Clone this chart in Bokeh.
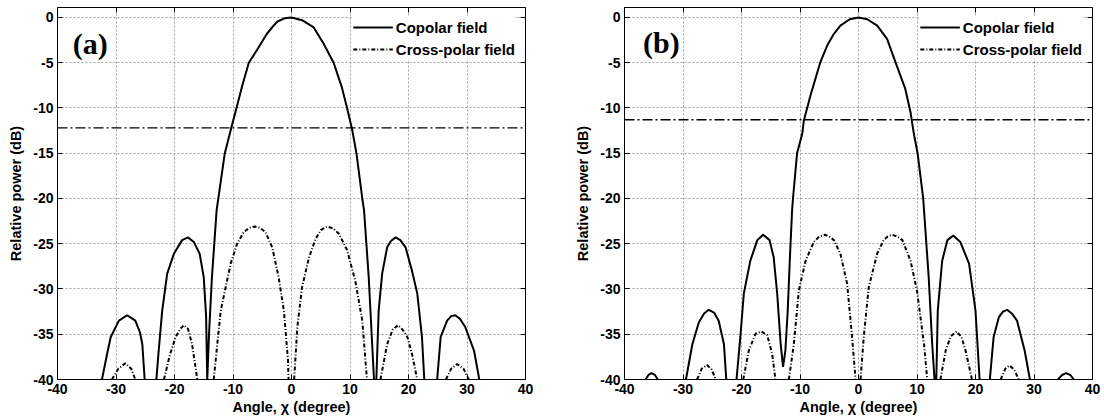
import math
from bokeh.plotting import figure
from bokeh.models import (Range1d, FixedTicker, LinearAxis, Span, Label,
                          CustomJSTickFormatter)
from bokeh.layouts import row
from bokeh.embed import file_html
from bokeh.resources import INLINE

nan = float("nan")

x_ticks = [-40, -30, -20, -10, 0, 10, 20, 30, 40]
y_ticks = [-40, -35, -30, -25, -20, -15, -10, -5, 0]

# ---------------- Panel (a) ----------------
a_co_x = [-32.4, -31.4, -30.9, -29.5, -28.1, -26.7, -25.9, -25.5, -25.1, nan,
          -23.1, -22.7, -22.1, -21.25, -20.1, -18.7, -17.7, -16.7, -15.7, -15.0, -14.6, -14.4,
          -14.1, -13.6, -12.8, -11.4, -10.3, -9.4, -8.4, -7.3, -5.9, -4.2, -3.2, -2.4, -1.2, 0.0,
          1.8, 3.8, 5.5, 7.2, 8.6, 9.5, 10.4, 11.1, 12.1, 12.4, 13.2, 14.1, nan,
          14.5, 14.9, 15.5, 16.35, 17.0, 17.8, 18.6, 19.5, 20.6, 21.5, 22.3, 22.7, nan,
          24.9, 25.5, 26.6, 27.3, 28.0, 28.8, 29.7, 31.2, 32.1]
a_co_y = [-40, -36.8, -35.3, -33.5, -32.9, -33.5, -34.8, -36.1, -40, nan,
          -40, -36.8, -32.4, -28.3, -26.1, -24.6, -24.3, -24.8, -26.1, -28.7, -33.0, -40,
          -35.0, -28.7, -21.3, -15.0, -12.2, -10.0, -7.5, -5.0, -3.6, -1.8, -1.0, -0.45, -0.1, 0.0,
          -0.3, -1.1, -2.9, -5.0, -7.7, -10.0, -12.5, -15.0, -20.0, -21.3, -28.7, -40, nan,
          -40, -32.4, -28.3, -25.4, -24.7, -24.3, -24.6, -25.4, -28.0, -30.5, -35.3, -40, nan,
          -40, -35.3, -33.5, -33.0, -32.9, -33.3, -34.2, -36.8, -40]

a_xp_x = [-30.7, -29.6, -28.4, -27.4, -26.7, nan,
          -21.8, -20.8, -19.8, -19.0, -18.4, -17.7, -17.0, -16.1, nan,
          -13.3, -12.1, -10.4, -9.3, -8.15, -7.2, -6.3, -5.4, -4.45, -3.3, -2.2, -1.3, -0.6, -0.5, nan,
          0.45, 1.0, 1.8, 3.0, 4.1, 5.0, 6.1, 7.1, 8.1, 9.5, 10.9, 12.1, 12.9, nan,
          15.2, 16.35, 17.3, 18.2, 19.0, 19.8, 20.6, 21.5, nan,
          26.4, 27.3, 28.3, 29.4, 30.3]
a_xp_y = [-40, -38.8, -38.2, -38.8, -40, nan,
          -40, -37.3, -35.3, -34.4, -34.0, -34.4, -36.1, -40, nan,
          -40, -32.4, -27.2, -25.0, -23.7, -23.25, -23.1, -23.25, -23.7, -25.4, -28.7, -32.4, -37.9, -40, nan,
          -40, -34.2, -29.8, -26.5, -24.5, -23.5, -23.1, -23.3, -23.9, -25.7, -29.1, -33.5, -40, nan,
          -40, -36.1, -34.5, -34.0, -34.5, -35.3, -37.2, -40, nan,
          -40, -38.8, -38.3, -38.8, -40]

a_level = -12.2

# ---------------- Panel (b) ----------------
b_co_x = [-36.4, -35.9, -35.4, -34.8, -34.3, nan,
          -29.5, -28.4, -27.3, -26.4, -25.6, -24.7, -23.9, -23.0, -22.6, nan,
          -20.85, -20.2, -19.6, -18.5, -17.3, -16.3, -15.2, -14.5, -13.9, -13.3, -12.9,
          -12.5, -12.1, -11.75, -11.35, -11.2, -10.5, -9.6, -9.35, -8.2, -6.5, -5.35, -4.3, -3.1,
          -1.5, 0.0, 1.5, 3.2, 4.9, 6.3, 8.0, 8.9, 9.45, 10.1, 11.06, 11.2, 12.0, 12.6, 13.0, nan,
          13.3, 13.55, 14.3, 15.2, 16.2, 17.4, 18.9, 20.0, 20.7, nan,
          22.45, 23.1, 24.0, 24.7, 25.4, 26.2, 27.1, 28.4, 29.3, nan,
          34.1, 34.8, 35.5, 36.2, 36.8]
b_co_y = [-40, -39.5, -39.3, -39.5, -40, nan,
          -40, -36.1, -33.7, -32.7, -32.3, -32.6, -33.5, -36.1, -40, nan,
          -40, -35.3, -30.5, -26.9, -24.6, -24.0, -24.6, -26.5, -30.5, -36.1, -38.6,
          -36.8, -32.4, -26.9, -21.3, -20.0, -15.0, -12.8, -11.4, -8.6, -4.9, -3.1, -1.9, -0.9,
          -0.2, 0.0, -0.2, -0.9, -2.4, -4.9, -7.9, -10.5, -12.8, -15.0, -20.0, -21.3, -28.7, -36.1, -40, nan,
          -40, -32.4, -26.9, -24.6, -24.1, -24.8, -27.2, -32.4, -40, nan,
          -40, -35.3, -33.1, -32.5, -32.3, -32.7, -33.5, -36.8, -40, nan,
          -40, -39.5, -39.3, -39.5, -40]

b_xp_x = [-27.6, -26.8, -25.9, -25.1, -24.4, nan,
          -19.7, -18.75, -17.6, -16.6, -15.6, -14.75, -14.2, nan,
          -11.9, -11.05, -10.2, -9.05, -7.65, -6.7, -5.8, -5.0, -4.2, -3.1, -1.95, -1.1, -0.5, nan,
          0.35, 0.9, 1.75, 3.2, 4.3, 5.0, 5.75, 6.6, 7.5, 8.9, 10.0, 11.2, 11.75, nan,
          14.0, 14.9, 15.8, 16.75, 17.6, 18.3, 19.4, nan,
          24.3, 25.1, 25.8, 26.6, 27.4]
b_xp_y = [-40, -38.8, -38.4, -38.9, -40, nan,
          -40, -36.8, -34.95, -34.7, -35.1, -37.2, -40, nan,
          -40, -36.1, -30.2, -26.9, -24.8, -24.2, -24.0, -24.2, -24.6, -26.1, -29.4, -35.3, -40, nan,
          -40, -35.3, -29.8, -26.1, -24.6, -24.2, -24.0, -24.2, -24.6, -26.9, -30.2, -36.1, -40, nan,
          -40, -36.8, -35.2, -34.7, -35.3, -36.8, -40, nan,
          -40, -38.8, -38.45, -38.9, -40]

b_level = -11.3

series_names = ["Copolar field", "Cross-polar field"]
panel_tags = ["(a)", "(b)"]

FONT = "Liberation Sans"


def make_panel(co_x, co_y, xp_x, xp_y, level, tag, tag_x, tag_y, border_left, border_right):
    p = figure(width=552, height=420, output_backend="svg", toolbar_location=None,
               x_range=Range1d(-40, 40), y_range=Range1d(-40, 1.1),
               min_border_left=border_left, min_border_right=border_right,
               min_border_top=7, min_border_bottom=41,
               background_fill_color="white", border_fill_color="white")
    p.outline_line_color = "black"
    p.outline_line_width = 1
    p.outline_line_alpha = 1

    p.xaxis.ticker = FixedTicker(ticks=x_ticks)
    p.yaxis.ticker = FixedTicker(ticks=y_ticks)
    for ax in (p.xaxis[0], p.yaxis[0]):
        ax.formatter = CustomJSTickFormatter(code="return tick.toFixed(0)")
        ax.major_tick_in = 5
        ax.major_tick_out = 0
        ax.minor_tick_in = 0
        ax.minor_tick_out = 0
        ax.axis_line_color = "black"
        ax.major_tick_line_color = "black"
        ax.major_label_text_font = FONT
        ax.major_label_text_font_style = "bold"
        ax.major_label_text_font_size = "14px"
        ax.major_label_text_color = "black"
        ax.major_label_standoff = 4
        ax.axis_label_text_font = FONT
        ax.axis_label_text_font_style = "bold"
        ax.axis_label_text_font_size = "14.5px"
        ax.axis_label_text_color = "black"
    p.xaxis.axis_label = "Angle, χ (degree)"
    p.yaxis.axis_label = "Relative power (dB)"
    p.xaxis.axis_label_standoff = 2
    p.yaxis.axis_label_standoff = 6

    # ticks on top and right (inside)
    for loc, tk in (("above", x_ticks), ("right", y_ticks)):
        ax = LinearAxis(ticker=FixedTicker(ticks=tk),
                        formatter=CustomJSTickFormatter(code="return ''"),
                        major_tick_in=5, major_tick_out=0,
                        minor_tick_in=0, minor_tick_out=0,
                        axis_line_color=None, major_label_text_font_size="0px",
                        major_label_standoff=0)
        p.add_layout(ax, loc)

    for g in (p.xgrid[0], p.ygrid[0]):
        g.grid_line_color = "#a0a0a0"
        g.grid_line_dash = "2 2"
        g.grid_line_width = 1

    p.line(co_x, co_y, line_color="black", line_width=2, legend_label=series_names[0])
    p.line(xp_x, xp_y, line_color="black", line_width=2, line_dash="4 2 1 2",
           legend_label=series_names[1])

    p.add_layout(Span(location=level, dimension="width", line_color="black",
                      line_width=1.3, line_dash="10 3 2 3"))

    p.add_layout(Label(x=tag_x, y=tag_y, text=tag, text_align="center",
                       text_baseline="middle", text_font="Liberation Serif",
                       text_font_style="bold", text_font_size="30px", text_color="black"))

    lg = p.legend[0]
    lg.location = "top_right"
    lg.margin = 10
    lg.padding = 6
    lg.spacing = 2
    lg.glyph_width = 40
    lg.glyph_height = 20
    lg.label_height = 20
    lg.label_standoff = 3
    lg.border_line_color = None
    lg.background_fill_color = "white"
    lg.background_fill_alpha = 1
    lg.label_text_font = FONT
    lg.label_text_font_style = "bold"
    lg.label_text_font_size = "15px"
    lg.label_text_color = "black"
    return p


pa = make_panel(a_co_x, a_co_y, a_xp_x, a_xp_y, a_level, panel_tags[0], -34.4, -2.9, 57, 27)
pb = make_panel(b_co_x, b_co_y, b_xp_x, b_xp_y, b_level, panel_tags[1], -33.7, -2.8, 72, 12)

layout = row(pa, pb)
open("out.html", "w").write(file_html(layout, INLINE))
